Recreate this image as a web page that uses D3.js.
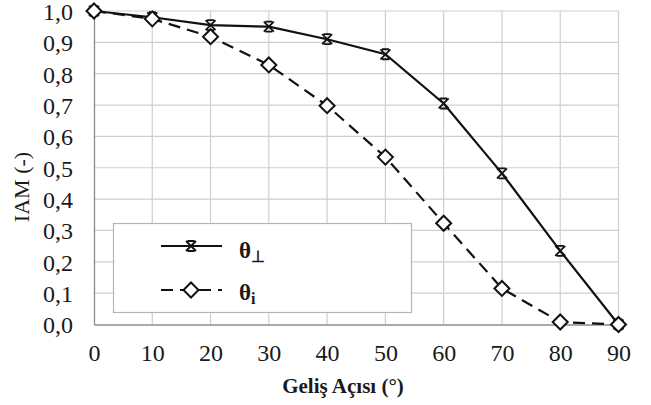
<!DOCTYPE html>
<html>
<head>
<meta charset="utf-8">
<script src="https://cdn.jsdelivr.net/npm/d3@7"></script>
<style>
  html, body { margin: 0; padding: 0; background: #fff; }
  svg { display: block; }
  text { font-family: "Liberation Serif", "Times New Roman", serif; fill: #1a1a1a; }
</style>
</head>
<body>
<svg id="chart" width="651" height="405"></svg>
<script>
// Incidence angle (degrees)
const angles = [0, 10, 20, 30, 40, 50, 60, 70, 80, 90];
// IAM, perpendicular direction
const iamPerp = [1.0, 0.98, 0.955, 0.95, 0.91, 0.862, 0.705, 0.482, 0.235, 0.0];
// IAM, longitudinal direction
const iamLong = [1.0, 0.975, 0.918, 0.828, 0.698, 0.534, 0.323, 0.115, 0.008, 0.0];
// Axis ticks
const xTicks = [0, 10, 20, 30, 40, 50, 60, 70, 80, 90];
const yTicks = [0, 0.1, 0.2, 0.3, 0.4, 0.5, 0.6, 0.7, 0.8, 0.9, 1.0];
const xTitle = "Geliş Açısı (°)";
const yTitle = "IAM (-)";

const svg = d3.select("#chart");
const plotL = 94, plotR = 618.5, plotT = 11, plotB = 324.5;

const x = d3.scaleLinear().domain([0, 90]).range([plotL, plotR]);
const y = d3.scaleLinear().domain([0, 1]).range([plotB, plotT]);
const fmt = v => d3.format(".1f")(v).replace(".", ",");

// Grid
const grid = svg.append("g");
grid.selectAll("line.h").data(yTicks.filter(v => v > 0)).join("line")
  .attr("class", "h")
  .attr("x1", plotL).attr("x2", plotR)
  .attr("y1", d => y(d)).attr("y2", d => y(d))
  .attr("stroke", "#cfcfcf").attr("stroke-width", 1.2);
grid.selectAll("line.v").data(xTicks.filter(v => v > 0)).join("line")
  .attr("class", "v")
  .attr("x1", d => x(d)).attr("x2", d => x(d))
  .attr("y1", plotT).attr("y2", plotB)
  .attr("stroke", "#cfcfcf").attr("stroke-width", 1.2);

// Axes
const xAxis = svg.append("g").attr("transform", `translate(0,${plotB})`)
  .call(d3.axisBottom(x).tickValues(xTicks).tickSize(0).tickPadding(0).tickFormat(d3.format("d")));
xAxis.select(".domain").attr("stroke", "#8c8c8c").attr("stroke-width", 1.3);
xAxis.selectAll("text").attr("dy", null).attr("y", 36)
  .style("font-size", "24px").style("font-family", "Liberation Serif").attr("fill", "#1a1a1a");

const yAxis = svg.append("g").attr("transform", `translate(${plotL},0)`)
  .call(d3.axisLeft(y).tickValues(yTicks).tickSize(0).tickPadding(0).tickFormat(fmt));
yAxis.select(".domain").attr("stroke", "#8c8c8c").attr("stroke-width", 1.3);
yAxis.selectAll("text").attr("x", -21).attr("dy", "0.35em")
  .style("font-size", "24px").style("font-family", "Liberation Serif").attr("fill", "#1a1a1a");

// Titles
svg.append("text").attr("x", 343).attr("y", 393).attr("text-anchor", "middle")
  .style("font-size", "21px").style("font-weight", "bold").text(xTitle);
svg.append("text").attr("transform", "translate(29,187) rotate(-90)")
  .attr("text-anchor", "middle").style("font-size", "22px").text(yTitle);

// Legend box (under the series lines)
svg.append("rect").attr("x", 113.5).attr("y", 223.5).attr("width", 298).attr("height", 89)
  .attr("fill", "#fff").attr("stroke", "#b5b5b5").attr("stroke-width", 1.2);

// Series
const line = d3.line().x((d, i) => x(angles[i])).y(d => y(d));
svg.append("path").datum(iamLong).attr("d", line)
  .attr("fill", "none").attr("stroke", "#111").attr("stroke-width", 2.2)
  .attr("stroke-dasharray", "12,7");
svg.append("path").datum(iamPerp).attr("d", line)
  .attr("fill", "none").attr("stroke", "#111").attr("stroke-width", 2.2);

function starMarker(g, cx, cy) {
  const s = 5;
  g.append("path")
    .attr("d", `M${cx - s},${cy - s}L${cx + s},${cy + s}M${cx - s},${cy + s}L${cx + s},${cy - s}` +
               `M${cx - 3.5},${cy - s}L${cx + 3.5},${cy - s}M${cx - 3.5},${cy + s}L${cx + 3.5},${cy + s}`)
    .attr("stroke", "#111").attr("stroke-width", 1.8).attr("fill", "none");
}
function diamondMarker(g, cx, cy) {
  const s = 7.5;
  g.append("path")
    .attr("d", `M${cx},${cy - s}L${cx + s},${cy}L${cx},${cy + s}L${cx - s},${cy}Z`)
    .attr("stroke", "#111").attr("stroke-width", 2).attr("fill", "#fff");
}

const marks = svg.append("g");
iamPerp.forEach((v, i) => starMarker(marks, x(angles[i]), y(v)));
iamLong.forEach((v, i) => diamondMarker(marks, x(angles[i]), y(v)));

// Legend entries
const lg = svg.append("g");
lg.append("line").attr("x1", 161).attr("x2", 222).attr("y1", 246).attr("y2", 246)
  .attr("stroke", "#111").attr("stroke-width", 2.2);
starMarker(lg, 191, 246);
lg.append("line").attr("x1", 161).attr("x2", 222).attr("y1", 290).attr("y2", 290)
  .attr("stroke", "#111").attr("stroke-width", 2.2).attr("stroke-dasharray", "12,7");
diamondMarker(lg, 191, 290);

const t1 = lg.append("text").attr("x", 239).attr("y", 258)
  .style("font-size", "23px").style("font-weight", "bold");
t1.append("tspan").text("θ");
t1.append("tspan").attr("dy", 4).style("font-size", "16px").text("⊥");
const t2 = lg.append("text").attr("x", 239).attr("y", 300)
  .style("font-size", "23px").style("font-weight", "bold");
t2.append("tspan").text("θ");
t2.append("tspan").attr("dy", 4).style("font-size", "16px").text("i");
</script>
</body>
</html>
